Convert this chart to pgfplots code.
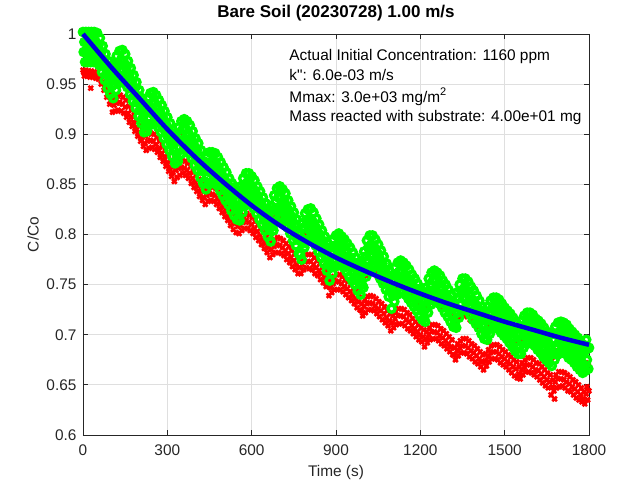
\documentclass[border=0pt]{standalone}
\usepackage{fontspec}
\setmainfont{Liberation Sans}
\newfontfamily\plainfont{Liberation Sans}
\usepackage{pgfplots}
\usepackage{pgfplotstable}
\pgfplotsset{compat=1.18}
\definecolor{axc}{RGB}{38,38,38}
\definecolor{gridc}{RGB}{223,223,223}
\definecolor{fitblue}{RGB}{0,0,220}
\definecolor{mgreen}{RGB}{0,255,0}
\definecolor{mred}{RGB}{255,0,0}

\pgfplotstableread{
t g r
0 1.002 0.964
5 0.992 0.958
10 1.002 0.964
15 0.992 0.958
20 1.002 0.963
25 0.992 0.957
30 1.002 0.963
35 0.992 0.957
40 1.002 0.962
45 0.992 0.956
50 1.001 0.962
55 0.989 0.955
60 0.996 0.958
65 0.982 0.950
70 0.988 0.952
75 0.974 0.944
80 0.980 0.946
85 0.966 0.937
90 0.973 0.940
95 0.960 0.930
100 0.968 0.933
105 0.956 0.922
110 0.970 0.929
115 0.964 0.923
120 0.978 0.931
125 0.971 0.924
130 0.983 0.932
135 0.974 0.923
140 0.984 0.930
145 0.972 0.921
150 0.980 0.927
155 0.967 0.917
160 0.973 0.921
165 0.960 0.912
170 0.966 0.917
175 0.953 0.908
180 0.959 0.912
185 0.946 0.903
190 0.952 0.907
195 0.938 0.898
200 0.944 0.902
205 0.931 0.893
210 0.936 0.897
215 0.922 0.888
220 0.931 0.891
225 0.923 0.884
230 0.936 0.893
235 0.929 0.886
240 0.941 0.894
245 0.931 0.887
250 0.942 0.893
255 0.931 0.885
260 0.939 0.890
265 0.927 0.882
270 0.934 0.886
275 0.922 0.877
280 0.929 0.881
285 0.916 0.873
290 0.923 0.877
295 0.910 0.868
300 0.917 0.872
305 0.904 0.863
310 0.911 0.867
315 0.898 0.858
320 0.904 0.862
325 0.891 0.853
330 0.900 0.864
335 0.893 0.857
340 0.907 0.866
345 0.900 0.859
350 0.913 0.867
355 0.905 0.861
360 0.915 0.866
365 0.905 0.859
370 0.913 0.864
375 0.901 0.856
380 0.909 0.861
385 0.896 0.851
390 0.903 0.856
395 0.889 0.847
400 0.896 0.852
405 0.884 0.843
410 0.891 0.848
415 0.877 0.838
420 0.884 0.843
425 0.871 0.834
430 0.873 0.837
435 0.865 0.830
440 0.877 0.839
445 0.870 0.833
450 0.882 0.841
455 0.872 0.834
460 0.882 0.840
465 0.872 0.833
470 0.881 0.839
475 0.869 0.830
480 0.877 0.835
485 0.864 0.826
490 0.872 0.831
495 0.859 0.822
500 0.867 0.827
505 0.854 0.818
510 0.862 0.823
515 0.850 0.814
520 0.856 0.818
525 0.844 0.809
530 0.851 0.814
535 0.839 0.805
540 0.847 0.811
545 0.835 0.802
550 0.844 0.808
555 0.834 0.801
560 0.848 0.809
565 0.842 0.804
570 0.856 0.812
575 0.849 0.806
580 0.861 0.814
585 0.852 0.806
590 0.861 0.812
595 0.850 0.804
600 0.858 0.810
605 0.846 0.801
610 0.854 0.806
615 0.841 0.797
620 0.848 0.803
625 0.835 0.794
630 0.843 0.799
635 0.830 0.790
640 0.837 0.795
645 0.824 0.786
650 0.831 0.791
655 0.818 0.782
660 0.825 0.787
665 0.813 0.777
670 0.828 0.785
675 0.824 0.780
680 0.839 0.788
685 0.833 0.782
690 0.846 0.790
695 0.837 0.782
700 0.848 0.789
705 0.837 0.781
710 0.845 0.787
715 0.834 0.779
720 0.841 0.784
725 0.827 0.775
730 0.834 0.781
735 0.821 0.772
740 0.828 0.777
745 0.814 0.768
750 0.822 0.774
755 0.809 0.765
760 0.815 0.770
765 0.801 0.761
770 0.800 0.767
775 0.795 0.761
780 0.811 0.770
785 0.807 0.765
790 0.821 0.773
795 0.814 0.767
800 0.825 0.773
805 0.816 0.766
810 0.826 0.773
815 0.814 0.765
820 0.822 0.770
825 0.809 0.761
830 0.816 0.767
835 0.803 0.759
840 0.810 0.764
845 0.797 0.755
850 0.804 0.761
855 0.791 0.752
860 0.798 0.757
865 0.784 0.748
870 0.791 0.754
875 0.774 0.739
880 0.787 0.747
885 0.781 0.742
890 0.795 0.751
895 0.788 0.745
900 0.799 0.753
905 0.790 0.745
910 0.801 0.753
915 0.790 0.745
920 0.798 0.751
925 0.787 0.743
930 0.795 0.748
935 0.783 0.740
940 0.791 0.746
945 0.778 0.737
950 0.787 0.743
955 0.774 0.734
960 0.782 0.739
965 0.770 0.731
970 0.777 0.736
975 0.764 0.727
980 0.772 0.733
985 0.760 0.725
990 0.770 0.724
995 0.767 0.719
1000 0.783 0.728
1005 0.778 0.722
1010 0.794 0.731
1015 0.787 0.725
1020 0.799 0.732
1025 0.790 0.725
1030 0.799 0.731
1035 0.788 0.724
1040 0.795 0.729
1045 0.783 0.721
1050 0.790 0.726
1055 0.776 0.718
1060 0.784 0.724
1065 0.771 0.715
1070 0.778 0.721
1075 0.765 0.712
1080 0.771 0.717
1085 0.758 0.709
1090 0.764 0.714
1095 0.746 0.704
1100 0.759 0.712
1105 0.753 0.707
1110 0.767 0.716
1115 0.760 0.710
1120 0.772 0.719
1125 0.763 0.711
1130 0.774 0.719
1135 0.763 0.711
1140 0.772 0.718
1145 0.760 0.709
1150 0.769 0.715
1155 0.756 0.706
1160 0.765 0.713
1165 0.752 0.704
1170 0.760 0.709
1175 0.748 0.701
1180 0.756 0.706
1185 0.744 0.698
1190 0.751 0.703
1195 0.739 0.695
1200 0.746 0.700
1205 0.735 0.693
1210 0.743 0.698
1215 0.733 0.688
1220 0.747 0.696
1225 0.742 0.692
1230 0.756 0.700
1235 0.750 0.695
1240 0.762 0.703
1245 0.754 0.696
1250 0.764 0.703
1255 0.754 0.696
1260 0.762 0.702
1265 0.751 0.694
1270 0.759 0.699
1275 0.747 0.691
1280 0.754 0.697
1285 0.742 0.689
1290 0.750 0.694
1295 0.738 0.686
1300 0.745 0.691
1305 0.733 0.683
1310 0.740 0.688
1315 0.728 0.680
1320 0.732 0.680
1325 0.727 0.675
1330 0.742 0.684
1335 0.737 0.679
1340 0.750 0.687
1345 0.744 0.682
1350 0.756 0.689
1355 0.746 0.682
1360 0.756 0.689
1365 0.744 0.681
1370 0.753 0.687
1375 0.740 0.678
1380 0.748 0.684
1385 0.735 0.676
1390 0.744 0.682
1395 0.731 0.673
1400 0.739 0.679
1405 0.727 0.671
1410 0.734 0.676
1415 0.721 0.668
1420 0.728 0.673
1425 0.716 0.665
1430 0.721 0.674
1435 0.715 0.669
1440 0.728 0.678
1445 0.721 0.673
1450 0.734 0.682
1455 0.726 0.676
1460 0.737 0.683
1465 0.727 0.676
1470 0.737 0.683
1475 0.726 0.675
1480 0.735 0.681
1485 0.722 0.672
1490 0.731 0.678
1495 0.719 0.670
1500 0.727 0.676
1505 0.716 0.668
1510 0.724 0.673
1515 0.712 0.665
1520 0.721 0.671
1525 0.708 0.662
1530 0.717 0.668
1535 0.704 0.659
1540 0.713 0.666
1545 0.701 0.657
1550 0.708 0.661
1555 0.701 0.656
1560 0.714 0.665
1565 0.707 0.660
1570 0.719 0.668
1575 0.711 0.663
1580 0.722 0.670
1585 0.712 0.663
1590 0.722 0.670
1595 0.711 0.662
1600 0.720 0.668
1605 0.709 0.660
1610 0.716 0.665
1615 0.705 0.658
1620 0.714 0.664
1625 0.702 0.655
1630 0.711 0.661
1635 0.698 0.652
1640 0.707 0.658
1645 0.695 0.649
1650 0.703 0.655
1655 0.692 0.647
1660 0.700 0.653
1665 0.689 0.640
1670 0.701 0.648
1675 0.695 0.644
1680 0.708 0.653
1685 0.700 0.647
1690 0.712 0.656
1695 0.702 0.648
1700 0.713 0.656
1705 0.703 0.649
1710 0.712 0.655
1715 0.701 0.647
1720 0.710 0.653
1725 0.697 0.644
1730 0.706 0.651
1735 0.695 0.643
1740 0.703 0.648
1745 0.692 0.640
1750 0.700 0.646
1755 0.688 0.637
1760 0.697 0.643
1765 0.685 0.635
1770 0.693 0.640
1775 0.682 0.633
1780 0.690 0.636
1785 0.684 0.631
1790 0.695 0.641
1795 0.686 0.635
1800 0.687 0.644
}\meas

\pgfplotstableread{
t g r
2.5 0.982 0.962
7.5 0.972 0.985
12.5 0.982 0.962
17.5 0.972 0.984
22.5 0.982 0.961
27.5 0.972 0.946
32.5 0.982 0.960
37.5 0.972 0.982
42.5 0.982 0.959
47.5 0.972 0.981
52.5 0.981 0.957
57.5 0.969 0.979
62.5 0.976 0.955
67.5 0.962 0.975
72.5 0.968 0.951
77.5 0.954 0.971
82.5 0.960 0.947
87.5 0.946 0.967
92.5 0.953 0.943
97.5 0.940 0.963
102.5 0.948 0.939
107.5 0.936 0.959
112.5 0.950 0.936
117.5 0.944 0.960
122.5 0.958 0.938
127.5 0.951 0.961
132.5 0.963 0.939
137.5 0.954 0.960
142.5 0.964 0.937
147.5 0.952 0.958
152.5 0.960 0.934
157.5 0.947 0.954
162.5 0.953 0.928
167.5 0.940 0.949
172.5 0.946 0.924
177.5 0.933 0.945
182.5 0.939 0.919
187.5 0.926 0.940
192.5 0.932 0.914
197.5 0.918 0.935
202.5 0.924 0.909
207.5 0.911 0.930
212.5 0.916 0.904
217.5 0.902 0.925
222.5 0.911 0.898
227.5 0.903 0.921
232.5 0.916 0.900
237.5 0.909 0.923
242.5 0.921 0.901
247.5 0.911 0.924
252.5 0.922 0.900
257.5 0.911 0.922
262.5 0.919 0.897
267.5 0.907 0.919
272.5 0.914 0.893
277.5 0.902 0.914
282.5 0.909 0.888
287.5 0.896 0.910
292.5 0.903 0.884
297.5 0.890 0.905
302.5 0.897 0.879
307.5 0.884 0.900
312.5 0.891 0.874
317.5 0.878 0.895
322.5 0.884 0.869
327.5 0.871 0.890
332.5 0.880 0.871
337.5 0.873 0.894
342.5 0.887 0.873
347.5 0.880 0.896
352.5 0.893 0.874
357.5 0.885 0.898
362.5 0.895 0.873
367.5 0.885 0.896
372.5 0.893 0.871
377.5 0.881 0.893
382.5 0.889 0.868
387.5 0.876 0.888
392.5 0.883 0.863
397.5 0.869 0.884
402.5 0.876 0.859
407.5 0.864 0.880
412.5 0.871 0.855
417.5 0.857 0.875
422.5 0.864 0.850
427.5 0.851 0.871
432.5 0.853 0.844
437.5 0.845 0.867
442.5 0.857 0.846
447.5 0.850 0.870
452.5 0.862 0.848
457.5 0.852 0.871
462.5 0.862 0.847
467.5 0.852 0.870
472.5 0.861 0.846
477.5 0.849 0.867
482.5 0.857 0.842
487.5 0.844 0.863
492.5 0.852 0.838
497.5 0.839 0.859
502.5 0.847 0.834
507.5 0.834 0.855
512.5 0.842 0.830
517.5 0.830 0.851
522.5 0.836 0.825
527.5 0.824 0.846
532.5 0.831 0.821
537.5 0.819 0.842
542.5 0.827 0.818
547.5 0.815 0.839
552.5 0.824 0.815
557.5 0.814 0.838
562.5 0.828 0.816
567.5 0.822 0.841
572.5 0.836 0.819
577.5 0.829 0.843
582.5 0.841 0.821
587.5 0.832 0.843
592.5 0.841 0.819
597.5 0.830 0.841
602.5 0.838 0.817
607.5 0.826 0.838
612.5 0.834 0.813
617.5 0.821 0.834
622.5 0.828 0.810
627.5 0.815 0.831
632.5 0.823 0.806
637.5 0.810 0.827
642.5 0.817 0.802
647.5 0.804 0.823
652.5 0.811 0.798
657.5 0.798 0.819
662.5 0.805 0.794
667.5 0.793 0.814
672.5 0.808 0.792
677.5 0.804 0.817
682.5 0.819 0.795
687.5 0.813 0.819
692.5 0.826 0.797
697.5 0.817 0.819
702.5 0.828 0.796
707.5 0.817 0.818
712.5 0.825 0.794
717.5 0.814 0.816
722.5 0.821 0.791
727.5 0.807 0.812
732.5 0.814 0.788
737.5 0.801 0.809
742.5 0.808 0.784
747.5 0.794 0.805
752.5 0.802 0.781
757.5 0.789 0.802
762.5 0.795 0.777
767.5 0.781 0.798
772.5 0.780 0.774
777.5 0.775 0.798
782.5 0.791 0.777
787.5 0.787 0.802
792.5 0.801 0.780
797.5 0.794 0.804
802.5 0.805 0.780
807.5 0.796 0.803
812.5 0.806 0.780
817.5 0.794 0.802
822.5 0.802 0.777
827.5 0.789 0.798
832.5 0.796 0.774
837.5 0.783 0.796
842.5 0.790 0.771
847.5 0.777 0.792
852.5 0.784 0.768
857.5 0.771 0.789
862.5 0.778 0.764
867.5 0.764 0.785
872.5 0.771 0.761
877.5 0.754 0.776
882.5 0.767 0.754
887.5 0.761 0.779
892.5 0.775 0.758
897.5 0.768 0.782
902.5 0.779 0.760
907.5 0.770 0.782
912.5 0.781 0.760
917.5 0.770 0.782
922.5 0.778 0.758
927.5 0.767 0.780
932.5 0.775 0.755
937.5 0.763 0.777
942.5 0.771 0.753
947.5 0.758 0.774
952.5 0.767 0.750
957.5 0.754 0.771
962.5 0.762 0.746
967.5 0.750 0.768
972.5 0.757 0.743
977.5 0.744 0.764
982.5 0.752 0.740
987.5 0.740 0.762
992.5 0.750 0.731
997.5 0.747 0.756
1002.5 0.763 0.735
1007.5 0.758 0.759
1012.5 0.774 0.738
1017.5 0.767 0.762
1022.5 0.779 0.739
1027.5 0.770 0.762
1032.5 0.779 0.738
1037.5 0.768 0.761
1042.5 0.775 0.736
1047.5 0.763 0.758
1052.5 0.770 0.733
1057.5 0.756 0.755
1062.5 0.764 0.731
1067.5 0.751 0.752
1072.5 0.758 0.728
1077.5 0.745 0.749
1082.5 0.751 0.724
1087.5 0.738 0.746
1092.5 0.744 0.721
1097.5 0.726 0.741
1102.5 0.739 0.719
1107.5 0.733 0.744
1112.5 0.747 0.723
1117.5 0.740 0.747
1122.5 0.752 0.726
1127.5 0.743 0.748
1132.5 0.754 0.726
1137.5 0.743 0.748
1142.5 0.752 0.725
1147.5 0.740 0.746
1152.5 0.749 0.722
1157.5 0.736 0.743
1162.5 0.745 0.720
1167.5 0.732 0.741
1172.5 0.740 0.716
1177.5 0.728 0.738
1182.5 0.736 0.713
1187.5 0.724 0.735
1192.5 0.731 0.710
1197.5 0.719 0.732
1202.5 0.726 0.707
1207.5 0.715 0.730
1212.5 0.723 0.705
1217.5 0.713 0.725
1222.5 0.727 0.703
1227.5 0.722 0.729
1232.5 0.736 0.707
1237.5 0.730 0.732
1242.5 0.742 0.710
1247.5 0.734 0.733
1252.5 0.744 0.710
1257.5 0.734 0.733
1262.5 0.742 0.709
1267.5 0.731 0.731
1272.5 0.739 0.706
1277.5 0.727 0.728
1282.5 0.734 0.704
1287.5 0.722 0.726
1292.5 0.730 0.701
1297.5 0.718 0.723
1302.5 0.725 0.698
1307.5 0.713 0.720
1312.5 0.720 0.695
1317.5 0.708 0.717
1322.5 0.712 0.687
1327.5 0.707 0.712
1332.5 0.722 0.691
1337.5 0.717 0.716
1342.5 0.730 0.694
1347.5 0.724 0.719
1352.5 0.736 0.696
1357.5 0.726 0.719
1362.5 0.736 0.696
1367.5 0.724 0.718
1372.5 0.733 0.694
1377.5 0.720 0.715
1382.5 0.728 0.691
1387.5 0.715 0.713
1392.5 0.724 0.689
1397.5 0.711 0.710
1402.5 0.719 0.686
1407.5 0.707 0.708
1412.5 0.714 0.683
1417.5 0.701 0.705
1422.5 0.708 0.680
1427.5 0.696 0.702
1432.5 0.701 0.681
1437.5 0.695 0.706
1442.5 0.708 0.685
1447.5 0.701 0.710
1452.5 0.714 0.689
1457.5 0.706 0.713
1462.5 0.717 0.690
1467.5 0.707 0.713
1472.5 0.717 0.690
1477.5 0.706 0.712
1482.5 0.715 0.688
1487.5 0.702 0.709
1492.5 0.711 0.685
1497.5 0.699 0.707
1502.5 0.707 0.683
1507.5 0.696 0.705
1512.5 0.704 0.680
1517.5 0.692 0.702
1522.5 0.701 0.678
1527.5 0.688 0.699
1532.5 0.697 0.675
1537.5 0.684 0.696
1542.5 0.693 0.673
1547.5 0.681 0.694
1552.5 0.688 0.668
1557.5 0.681 0.693
1562.5 0.694 0.672
1567.5 0.687 0.697
1572.5 0.699 0.675
1577.5 0.691 0.700
1582.5 0.702 0.677
1587.5 0.692 0.700
1592.5 0.702 0.677
1597.5 0.691 0.699
1602.5 0.700 0.675
1607.5 0.689 0.697
1612.5 0.696 0.672
1617.5 0.685 0.695
1622.5 0.694 0.671
1627.5 0.682 0.692
1632.5 0.691 0.668
1637.5 0.678 0.689
1642.5 0.687 0.665
1647.5 0.675 0.686
1652.5 0.683 0.662
1657.5 0.672 0.684
1662.5 0.680 0.660
1667.5 0.669 0.677
1672.5 0.681 0.655
1677.5 0.675 0.636
1682.5 0.688 0.660
1687.5 0.680 0.684
1692.5 0.692 0.663
1697.5 0.682 0.685
1702.5 0.693 0.663
1707.5 0.683 0.686
1712.5 0.692 0.662
1717.5 0.681 0.684
1722.5 0.690 0.660
1727.5 0.677 0.681
1732.5 0.686 0.658
1737.5 0.675 0.680
1742.5 0.683 0.655
1747.5 0.672 0.677
1752.5 0.680 0.653
1757.5 0.668 0.674
1762.5 0.677 0.650
1767.5 0.665 0.672
1772.5 0.673 0.647
1777.5 0.662 0.670
1782.5 0.670 0.643
1787.5 0.664 0.668
1792.5 0.675 0.648
1797.5 0.666 0.672
}\measB

\pgfplotstableread{
t f
0 1.000
100 0.967
200 0.936
300 0.905
400 0.877
500 0.852
600 0.829
700 0.809
800 0.792
900 0.777
1000 0.764
1100 0.752
1200 0.741
1300 0.731
1400 0.722
1500 0.713
1600 0.705
1700 0.697
1800 0.690
}\fit

\begin{document}
\begin{tikzpicture}
\path[use as bounding box] (-83pt,-49pt) rectangle (534pt,435pt);
\begin{axis}[
  at={(0pt,0pt)}, anchor=south west,
  scale only axis, width=506pt, height=401pt,
  xmin=0, xmax=1800, ymin=0.6, ymax=1,
  xtick={0,300,600,900,1200,1500,1800},
  xticklabels={0,300,600,900,1200,1500,1800},
  ytick={0.6,0.65,0.7,0.75,0.8,0.85,0.9,0.95,1},
  yticklabels={0.6,0.65,0.7,0.75,0.8,0.85,0.9,0.95,1},
  /pgf/number format/assume math mode=true,
  tick align=inside, major tick length=5pt, tick pos=both,
  grid=major, major grid style={gridc, line width=0.8pt},
  axis line style={axc, line width=0.8pt},
  tick style={axc, line width=0.8pt},
  ticklabel style={font=\fontsize{15.4}{18}\selectfont, text=axc},
  xticklabel style={yshift=-6.5pt},
  yticklabel style={xshift=-3pt},
  title={Bare Soil (20230728) 1.00 m/s},
  title style={font=\bfseries\fontsize{17}{20}\selectfont, at={(0.5,1)}, anchor=base, yshift=10pt},
  xlabel={Time (s)}, ylabel={C/Co},
  label style={font=\fontsize{15.4}{18}\selectfont, text=axc},
  xlabel style={at={(axis description cs:0.5,-0.0923)}, anchor=center},
  ylabel style={at={(axis description cs:-0.0988,0.5)}, anchor=center},
  clip=false,
  clip marker paths=true,
]
\addplot[only marks, mark=x, color=mred, mark size=3.2pt, mark options={solid, line width=2.6pt}] table[x=t, y=r] {\meas};
\addplot[only marks, mark=x, color=mred, mark size=3.2pt, mark options={solid, line width=2.6pt}] table[x=t, y=r] {\measB};
\addplot[only marks, mark=o, color=mgreen, mark size=3.6pt, mark options={solid, line width=3.4pt}] table[x=t, y=g] {\meas};
\addplot[only marks, mark=o, color=mgreen, mark size=3.6pt, mark options={solid, line width=3.4pt}] table[x=t, y=g] {\measB};
\addplot[fitblue, line width=4.5pt, smooth] table[x=t, y=f] {\fit};
\node[anchor=base west, font=\fontsize{15.4}{18}\selectfont] at (rel axis cs:0.401,0.9347) {Actual Initial Concentration: 1160 ppm};
\node[anchor=base west, font=\fontsize{15.4}{18}\plainfont] at (rel axis cs:0.401,0.8848) {k": 6.0e-03 m/s};
\node[anchor=base west, font=\fontsize{15.4}{18}\selectfont] at (rel axis cs:0.401,0.8304) {Mmax: 3.0e+03 mg/m\raisebox{0.42em}{\fontsize{11}{12}\selectfont 2}};
\node[anchor=base west, font=\fontsize{15.4}{18}\selectfont] at (rel axis cs:0.401,0.781) {Mass reacted with substrate: 4.00e+01 mg};
\end{axis}
\end{tikzpicture}
\end{document}
